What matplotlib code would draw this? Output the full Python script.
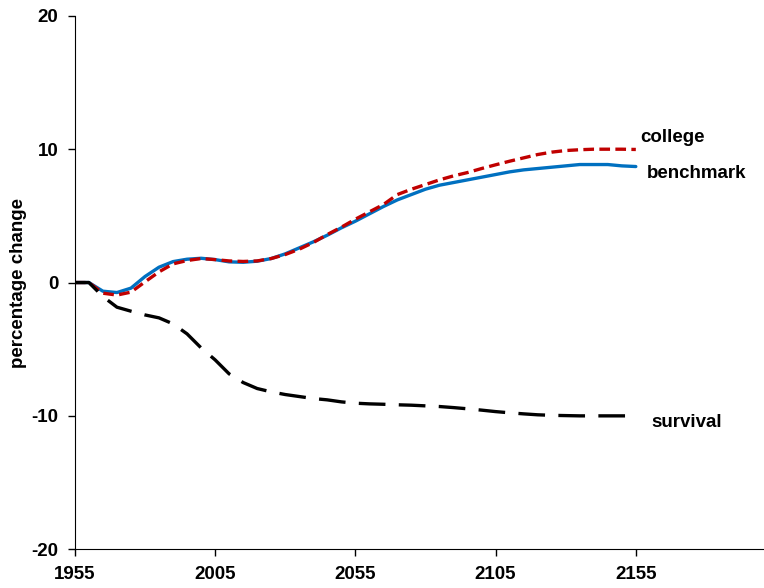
import matplotlib
matplotlib.use("Agg")
import matplotlib.pyplot as plt
import numpy as np

plt.rcParams['font.family'] = ['Liberation Sans', 'DejaVu Sans']
plt.rcParams['font.weight'] = 'bold'
plt.rcParams['axes.unicode_minus'] = False

# data (percentage change)
years = [1955, 1960, 1965, 1970, 1975, 1980, 1985, 1990, 1995, 2000,
         2005, 2010, 2015, 2020, 2025, 2030, 2035, 2040, 2045, 2050,
         2055, 2060, 2065, 2070, 2075, 2080, 2085, 2090, 2095, 2100,
         2105, 2110, 2115, 2120, 2125, 2130, 2135, 2140, 2145, 2150, 2155]
benchmark = [0, 0, -0.65, -0.75, -0.42, 0.45, 1.15, 1.57, 1.75, 1.82,
             1.72, 1.55, 1.52, 1.6, 1.8, 2.15, 2.6, 3.05, 3.55, 4.1,
             4.6, 5.15, 5.7, 6.2, 6.6, 7.0, 7.3, 7.5, 7.7, 7.9,
             8.1, 8.3, 8.45, 8.55, 8.65, 8.75, 8.85, 8.85, 8.85, 8.75, 8.7]
college = [0, 0, -0.8, -0.94, -0.72, 0.05, 0.8, 1.4, 1.65, 1.8,
           1.72, 1.62, 1.58, 1.62, 1.8, 2.1, 2.5, 3.0, 3.6, 4.15,
           4.75, 5.3, 5.85, 6.6, 7.0, 7.35, 7.7, 8.0, 8.25, 8.55,
           8.83, 9.1, 9.35, 9.6, 9.78, 9.9, 9.96, 10.0, 10.0, 10.0, 9.98]
survival = [0, 0, -1.05, -1.85, -2.15, -2.43, -2.65, -3.1, -3.85, -4.9,
            -5.8, -6.85, -7.5, -7.95, -8.2, -8.4, -8.55, -8.7, -8.8, -8.95,
            -9.05, -9.1, -9.13, -9.17, -9.2, -9.25, -9.3, -9.38, -9.47, -9.57,
            -9.68, -9.77, -9.85, -9.92, -9.96, -9.98, -10.0, -10.0, -10.0, -10.0, -10.0]

fig = plt.figure(figsize=(7.64, 5.88), dpi=100)
ax = fig.add_axes([0.098, 0.066, 0.902, 0.907])

ax.plot(years, benchmark, color='#0070C0', lw=2.4, solid_capstyle='round')
ax.plot(years, college, color='#C00000', lw=2.4, dashes=(3.2, 1.6))
ax.plot(years, survival, color='black', lw=2.4, dashes=(8, 4))

ax.text(2156.5, 10.9, 'college', fontsize=13.5, fontweight='bold', va='center')
ax.text(2158.9, 8.19, 'benchmark', fontsize=13.5, fontweight='bold', va='center')
ax.text(2160.7, -10.49, 'survival', fontsize=13.5, fontweight='bold', va='center')

ax.set_xlim(1955, 2200.7)
ax.set_ylim(-20, 20)
ax.set_xticks([1955, 2005, 2055, 2105, 2155])
ax.set_yticks([-20, -10, 0, 10, 20])
ax.set_ylabel('percentage change', fontsize=13.5, fontweight='bold', va='center')
ax.yaxis.set_label_coords(-0.082, 0.5)

ax.spines['top'].set_visible(False)
ax.spines['right'].set_visible(False)
ax.tick_params(axis='both', direction='out', length=5, width=1, labelsize=13.5, pad=7)
for lab in ax.get_xticklabels() + ax.get_yticklabels():
    lab.set_fontweight('bold')

fig.savefig('out.png', dpi=100)
